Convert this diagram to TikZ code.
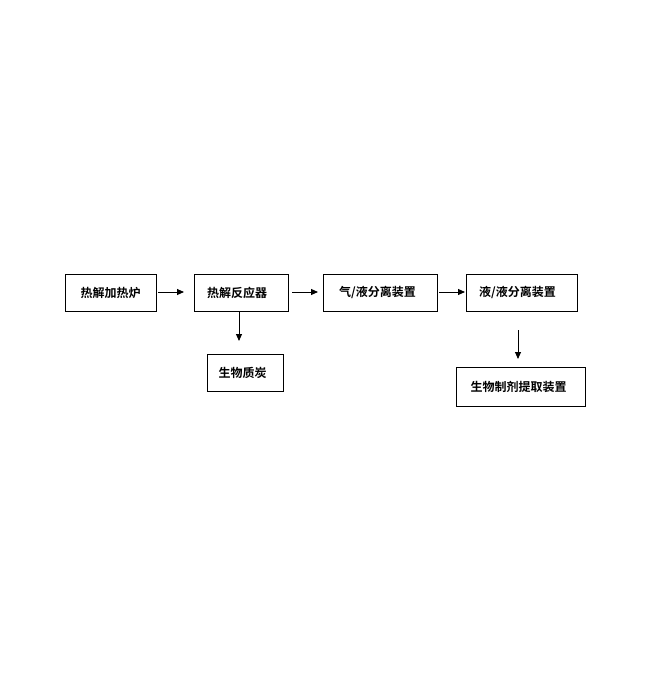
\documentclass[tikz,border=0pt]{standalone}
\usepackage{fontspec}
\newfontfamily\cjk{Noto Sans CJK SC Bold}
\usetikzlibrary{arrows.meta}
\begin{document}
\begin{tikzpicture}[x=1pt,y=-1pt,
  box/.style={draw=black,line width=0.9pt,inner sep=0pt,font=\cjk\fontsize{12}{12}\selectfont},
  arr/.style={line width=0.9pt,-{Triangle[length=7pt,width=6pt]}}]
\useasboundingbox (0,0) rectangle (654,680);
\node[box,minimum width=91pt,minimum height=37pt] (b1) at (110.5,292.5) {热解加热炉};
\node[box,minimum width=94pt,minimum height=37pt] (b2) at (241,292.5) {\hspace*{-8pt}热解反应器};
\node[box,minimum width=76pt,minimum height=37pt] (b3) at (245,372.5) {\hspace*{-5pt}生物质炭};
\node[box,minimum width=114pt,minimum height=37pt] (b4) at (380,292.5) {\hspace*{-5pt}气/液分离装置};
\node[box,minimum width=111pt,minimum height=37pt] (b5) at (521.5,292.5) {\hspace*{-8pt}液/液分离装置};
\node[box,minimum width=129pt,minimum height=39pt] (b6) at (520.5,386.5) {\hspace*{-4pt}生物制剂提取装置};
\coordinate (a1s) at (158,292);
\coordinate (a1e) at (184,292);
\draw[arr] (a1s) -- (a1e);
\coordinate (a2s) at (292,292);
\coordinate (a2e) at (318,292);
\draw[arr] (a2s) -- (a2e);
\coordinate (a3s) at (439,292);
\coordinate (a3e) at (465,292);
\draw[arr] (a3s) -- (a3e);
\coordinate (d1e) at (239,341);
\draw[arr] (b2.south -| d1e) -- (d1e);
\coordinate (d2s) at (518,330);
\coordinate (d2e) at (518,359);
\draw[arr] (d2s) -- (d2e);
\end{tikzpicture}
\end{document}
